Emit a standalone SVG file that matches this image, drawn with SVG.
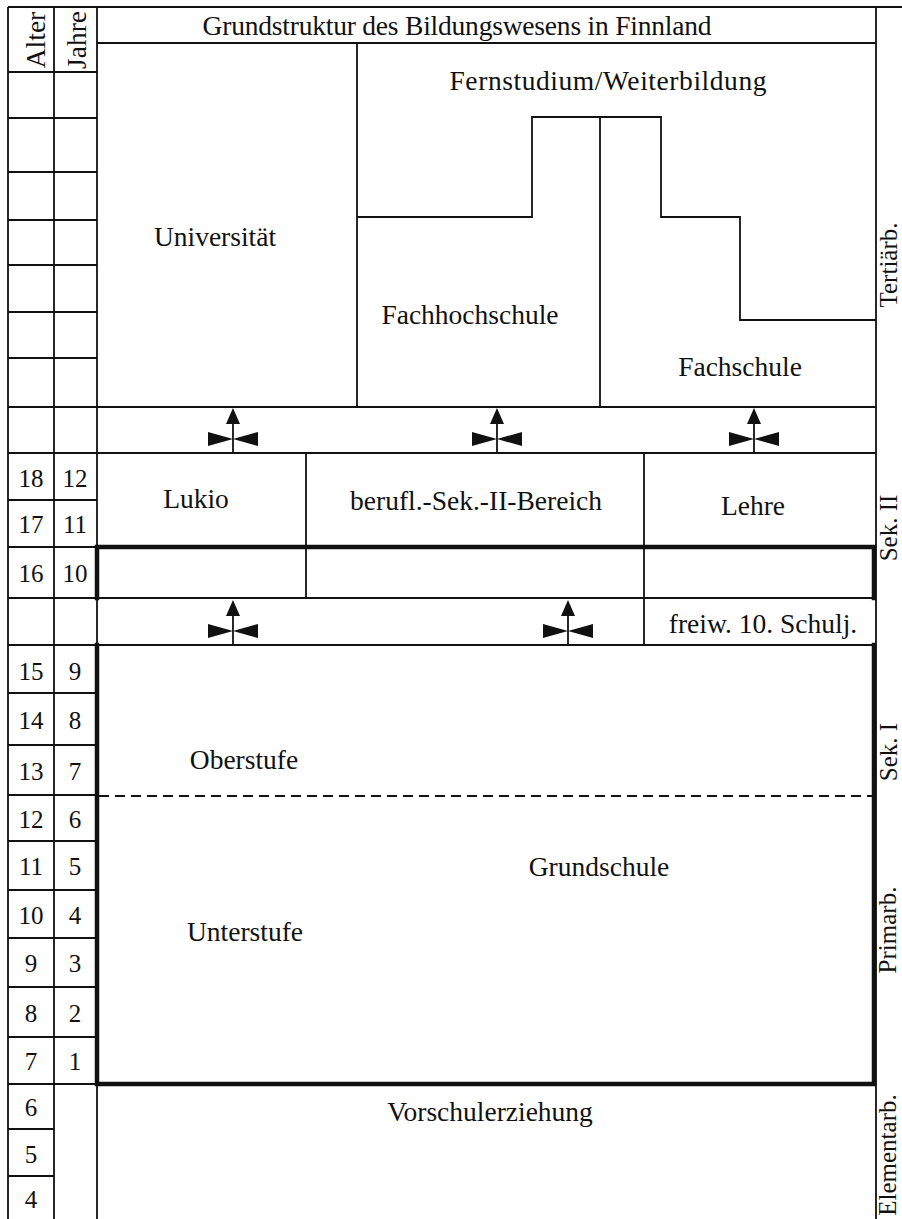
<svg xmlns="http://www.w3.org/2000/svg" width="902" height="1219" viewBox="0 0 902 1219">
<style>
.ln{stroke:#111;stroke-width:1.8;fill:none}
.tk{stroke:#111;stroke-width:4.5;fill:none;stroke-linecap:square}
.ds{stroke:#111;stroke-width:2;fill:none;stroke-dasharray:10 6}
text{font-family:"Liberation Serif","Times New Roman",serif;fill:#111;font-size:27.5px}
.c{text-anchor:middle}
.num{font-size:25px;text-anchor:middle}
.side{font-size:25px;text-anchor:middle}
</style>
<defs>
<g id="arr">
<line x1="0" y1="0" x2="0" y2="-32" stroke="#111" stroke-width="1.8"/>
<polygon points="0,-45 -7,-29 7,-29" fill="#111"/>
<polygon points="-25,-21 -25,-7 0,-14" fill="#111"/>
<polygon points="25,-21 25,-7 0,-14" fill="#111"/>
</g>
</defs>
<rect width="902" height="1219" fill="#fff"/>

<g id="age-scale">
<path class="ln" d="M8,7 H902 M8,7 V1219 M54,7 V1219 M97,7 V1219"/>
<path class="ln" d="M8,72 H97 M8,118 H97 M8,172 H97 M8,220 H97 M8,265 H97 M8,312 H97 M8,358 H97 M8,407 H97 M8,453 H97 M8,500 H97 M8,547 H97 M8,598 H97 M8,645 H97 M8,693 H97 M8,745 H97 M8,795 H97 M8,841 H97 M8,890 H97 M8,938 H97 M8,987 H97 M8,1037 H97 M8,1084 H97 M8,1129 H54 M8,1176 H54"/>
<text transform="translate(45,40) rotate(-90)" class="c" font-size="24">Alter</text>
<text transform="translate(86,40) rotate(-90)" class="c" font-size="24">Jahre</text>
<text class="num" x="31" y="487">18</text><text class="num" x="75" y="487">12</text>
<text class="num" x="31" y="533">17</text><text class="num" x="75" y="533">11</text>
<text class="num" x="31" y="582">16</text><text class="num" x="75" y="582">10</text>
<text class="num" x="31" y="680">15</text><text class="num" x="75" y="680">9</text>
<text class="num" x="31" y="729">14</text><text class="num" x="75" y="729">8</text>
<text class="num" x="31" y="780">13</text><text class="num" x="75" y="780">7</text>
<text class="num" x="31" y="828">12</text><text class="num" x="75" y="828">6</text>
<text class="num" x="31" y="875">11</text><text class="num" x="75" y="875">5</text>
<text class="num" x="31" y="924">10</text><text class="num" x="75" y="924">4</text>
<text class="num" x="31" y="972">9</text><text class="num" x="75" y="972">3</text>
<text class="num" x="31" y="1022">8</text><text class="num" x="75" y="1022">2</text>
<text class="num" x="31" y="1070">7</text><text class="num" x="75" y="1070">1</text>
<text class="num" x="31" y="1116">6</text>
<text class="num" x="31" y="1163">5</text>
<text class="num" x="31" y="1208">4</text>
</g>

<g id="title">
<path class="ln" d="M876,7 V1219 M97,43 H876"/>
<text class="c" x="457" y="35" textLength="509" lengthAdjust="spacing">Grundstruktur des Bildungswesens in Finnland</text>
</g>

<g id="universitaet">
<path class="ln" d="M357,43 V407 M97,407 H876"/>
<text class="c" x="215" y="246">Universität</text>
</g>

<g id="fernstudium">
<text class="c" x="608" y="90" textLength="317" lengthAdjust="spacing">Fernstudium/Weiterbildung</text>
</g>

<g id="fachhochschule">
<path class="ln" d="M357,217 H532 V117 H661 V217 H740 V320 H876 M600,117 V407"/>
<text class="c" x="470" y="324">Fachhochschule</text>
</g>

<g id="fachschule">
<text class="c" x="740" y="376">Fachschule</text>
</g>

<g id="sek2">
<path class="ln" d="M97,453 H876 M306,453 V598 M644,453 V645 M97,598 H876 M97,645 H876"/>
<path class="tk" d="M97,598 V547 H874 V598"/>
<path class="ln" d="M97,598 H874" stroke-width="2.5"/>
<text class="c" x="196" y="508">Lukio</text>
<text class="c" x="476" y="510">berufl.-Sek.-II-Bereich</text>
<text class="c" x="753" y="515">Lehre</text>
</g>

<g id="freiw">
<text class="c" x="763" y="633">freiw. 10. Schulj.</text>
</g>

<g id="grundschule">
<path class="tk" d="M97,645 V1084 H874 V645"/>
<path class="ds" d="M99,796 H872"/>
<text class="c" x="244" y="769">Oberstufe</text>
<text class="c" x="599" y="876">Grundschule</text>
<text class="c" x="245" y="941">Unterstufe</text>
</g>

<g id="vorschule">
<text class="c" x="490" y="1121" font-size="29">Vorschulerziehung</text>
</g>

<g id="side-labels">
<text class="side" transform="translate(897,265) rotate(-90)">Tertiärb.</text>
<text class="side" transform="translate(897,528) rotate(-90)">Sek. II</text>
<text class="side" transform="translate(897,752) rotate(-90)">Sek. I</text>
<text class="side" transform="translate(896,930) rotate(-90)">Primarb.</text>
<text class="side" transform="translate(896,1155) rotate(-90)">Elementarb.</text>
</g>

<g id="connectors">
<use href="#arr" x="233" y="453"/>
<use href="#arr" x="497" y="453"/>
<use href="#arr" x="754" y="453"/>
<use href="#arr" x="233" y="645"/>
<use href="#arr" x="568" y="645"/>
</g>
</svg>
